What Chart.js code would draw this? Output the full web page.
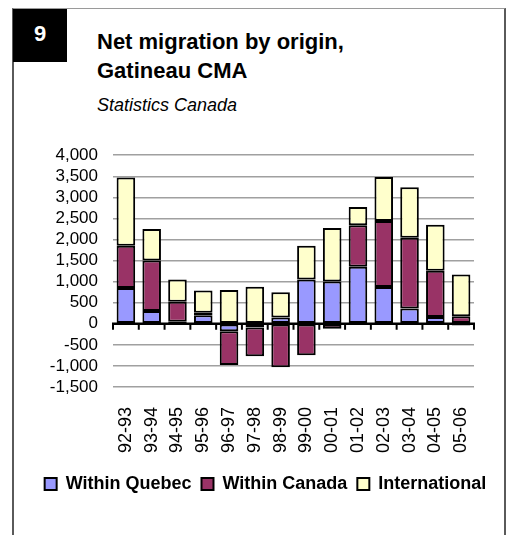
<!DOCTYPE html>
<html>
<head>
<meta charset="utf-8">
<script src="https://cdn.jsdelivr.net/npm/chart.js@4/dist/chart.umd.min.js"></script>
<style>
  body { margin: 0; background: #fff; font-family: "Liberation Sans", Arial, sans-serif; }
  #page { position: relative; width: 511px; height: 535px; overflow: hidden; }
  #frame { position: absolute; left: 12px; top: 8px; width: 490px; height: 540px;
           border-left: 2px solid #5a5a5a; border-right: 2px solid #5a5a5a; border-top: 1px solid #9a9a9a; }
  #num { position: absolute; left: 13px; top: 9px; width: 54px; height: 53px; background: #000; }
  #num span { position: absolute; left: 0; width: 54px; top: 14px; text-align: center;
              color: #fff; font-weight: bold; font-size: 22px; line-height: 22px; }
  .t { position: absolute; left: 97px; color: #000; white-space: nowrap; }
  .t1 { font-weight: bold; font-size: 22px; line-height: 22px; }
  .t2 { font-style: italic; font-size: 18px; line-height: 18px; }
  #box { position: absolute; left: 33px; top: 130px; width: 465px; height: 382px; }
</style>
</head>
<body>
<div id="page">
  <div id="frame"></div>
  <div id="num"><span>9</span></div>
  <div class="t t1" style="top:31px">Net migration by origin,</div>
  <div class="t t1" style="top:60px">Gatineau CMA</div>
  <div class="t t2" style="top:96px">Statistics Canada</div>
  <div id="box"><canvas id="myChart"></canvas></div>
</div>
<script>
// данные
const years = ['92-93', '93-94', '94-95', '95-96', '96-97', '97-98', '98-99', '99-00', '00-01', '01-02', '02-03', '03-04', '04-05', '05-06'];
const withinQuebec = [850, 300, 50, 200, -180, -90, 150, 1050, 1000, 1350, 870, 360, 160, -40];
const withinCanada = [1000, 1200, 470, 60, -800, -680, -1030, -750, -120, 990, 1570, 1680, 1100, 180];
const international = [1620, 750, 530, 530, 800, 880, 600, 800, 1270, 430, 1040, 1200, 1090, 990];
const yMin = -1500, yMax = 4000, yStep = 500;

// черная ось на нуле с засечками между категориями
const zeroAxis = {
  id: 'zeroAxis',
  afterDatasetsDraw(chart) {
    const ctx = chart.ctx;
    const x = chart.scales.x, y = chart.scales.y;
    const y0 = y.getPixelForValue(0);
    const half = (x.getPixelForValue(1) - x.getPixelForValue(0)) / 2;
    ctx.save();
    ctx.strokeStyle = '#000';
    ctx.lineWidth = 2.5;
    ctx.beginPath();
    ctx.moveTo(chart.chartArea.left - 1, y0);
    ctx.lineTo(chart.chartArea.right + 1, y0);
    ctx.stroke();
    ctx.lineWidth = 2;
    for (let i = 0; i <= years.length; i++) {
      const px = x.getPixelForValue(i) - half;
      ctx.beginPath();
      ctx.moveTo(px, y0);
      ctx.lineTo(px, y0 + 6);
      ctx.stroke();
    }
    ctx.restore();
  }
};

Chart.defaults.font.family = '"Liberation Sans", Arial, sans-serif';
Chart.defaults.color = '#000';

var ctx = document.getElementById('myChart').getContext('2d');
var myChart = new Chart(ctx, {
  type: 'bar',
  data: {
    labels: years,
    datasets: [{
      label: 'Within Quebec',
      data: withinQuebec,
      backgroundColor: '#9999ff'
    }, {
      label: 'Within Canada',
      data: withinCanada,
      backgroundColor: '#993366'
    }, {
      label: 'International',
      data: international,
      backgroundColor: '#ffffcc'
    }]
  },
  plugins: [zeroAxis],
  options: {
    responsive: true,
    maintainAspectRatio: false,
    animation: false,
    layout: { padding: { left: 0, right: 0, top: 18, bottom: 9 } },
    datasets: {
      bar: {
        borderColor: '#000',
        borderWidth: 2,
        borderSkipped: false,
        barPercentage: 0.72,
        categoryPercentage: 1
      }
    },
    plugins: {
      tooltip: { enabled: false },
      legend: {
        position: 'bottom',
        labels: {
          boxWidth: 12,
          boxHeight: 12,
          padding: 10,
          font: { size: 18, weight: 'bold' }
        }
      }
    },
    scales: {
      x: {
        stacked: true,
        grid: { display: false },
        border: { display: false },
        ticks: { minRotation: 90, maxRotation: 90, padding: 12, font: { size: 18 } }
      },
      y: {
        stacked: true,
        min: yMin,
        max: yMax,
        border: { display: false },
        grid: {
          drawTicks: false,
          lineWidth: 1.5,
          color: c => c.tick && c.tick.value === 0 ? 'rgba(0,0,0,0)' : '#a0a0a0'
        },
        ticks: {
          stepSize: yStep,
          autoSkip: false,
          padding: 15,
          font: { size: 17 },
          callback: v => v.toLocaleString('en-US')
        },
        afterFit(scale) { scale.width = 80; }
      },
      // пустая ось справа, только чтобы оставить поле
      yRight: {
        position: 'right',
        grid: { display: false },
        border: { display: false },
        ticks: { display: false },
        afterFit(scale) { scale.width = 24; }
      }
    }
  }
});
</script>
</body>
</html>
